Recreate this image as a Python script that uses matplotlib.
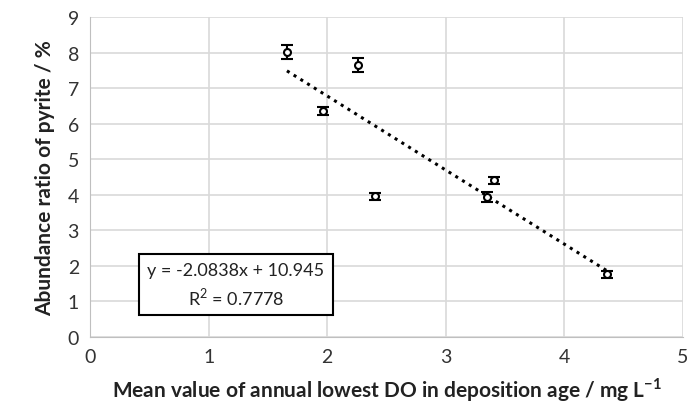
import matplotlib
matplotlib.use("Agg")
import matplotlib.pyplot as plt
import numpy as np

plt.rcParams['font.family'] = ['Lato', 'DejaVu Sans']
plt.rcParams['mathtext.fontset'] = 'custom'
plt.rcParams['mathtext.rm'] = 'Lato'
plt.rcParams['mathtext.bf'] = 'Lato:bold'

# Measured points
do_mean = [1.66, 1.96, 2.26, 2.40, 3.35, 3.41, 4.36]
pyrite = [8.01, 6.35, 7.65, 3.96, 3.93, 4.41, 1.77]
pyrite_err = [0.20, 0.12, 0.20, 0.10, 0.14, 0.10, 0.10]

# Linear fit
slope = -2.0838
intercept = 10.945
r2 = 0.7778

x_ticks = [0, 1, 2, 3, 4, 5]
y_ticks = [0, 1, 2, 3, 4, 5, 6, 7, 8, 9]

fig = plt.figure(figsize=(6.93, 4.14), dpi=100)
ax = fig.add_axes([0.130, 0.1836, 0.8556, 0.7729])

ax.set_xlim(0, 5)
ax.set_ylim(0, 9)
ax.set_xticks(x_ticks)
ax.set_yticks(y_ticks)
ax.grid(True, color='#d9d9d9', linewidth=1.2)
ax.set_axisbelow(True)
for s in ax.spines.values():
    s.set_visible(False)
ax.spines['left'].set_visible(True)
ax.spines['left'].set_color('#bfbfbf')
ax.spines['bottom'].set_visible(True)
ax.spines['bottom'].set_color('#bfbfbf')
ax.tick_params(length=0, labelsize=14, labelcolor='#333333', pad=8)

# Trend line over the data range
xs = np.array([min(do_mean), max(do_mean)])
ax.plot(xs, slope * xs + intercept, color='black', linestyle=(0, (1, 1.6)),
        linewidth=2.2, zorder=2)

ax.errorbar(do_mean, pyrite, yerr=pyrite_err, fmt='o', markersize=5,
            markerfacecolor='white', markeredgecolor='black', markeredgewidth=1.5,
            ecolor='black', elinewidth=1.5, capsize=4.5, capthick=2, zorder=3)

ax.text(1.23, 1.47, f"y = {slope:.4f}x + {intercept:.3f}\nR$^2$ = {r2:.4f}",
        ha='center', va='center', fontsize=13, color='#222222', linespacing=1.35,
        bbox=dict(boxstyle='square,pad=0.45', facecolor='white', edgecolor='black', linewidth=1.5),
        zorder=4)

ax.set_xlabel(r"Mean value of annual lowest DO in deposition age / mg L$^{\mathbf{-1}}$",
              fontsize=15, fontweight='bold', color='#222222', labelpad=7)
ax.set_ylabel("Abundance ratio of pyrite / %", fontsize=15, fontweight='bold',
              color='#222222', labelpad=9)

fig.savefig("out.png", dpi=100)
